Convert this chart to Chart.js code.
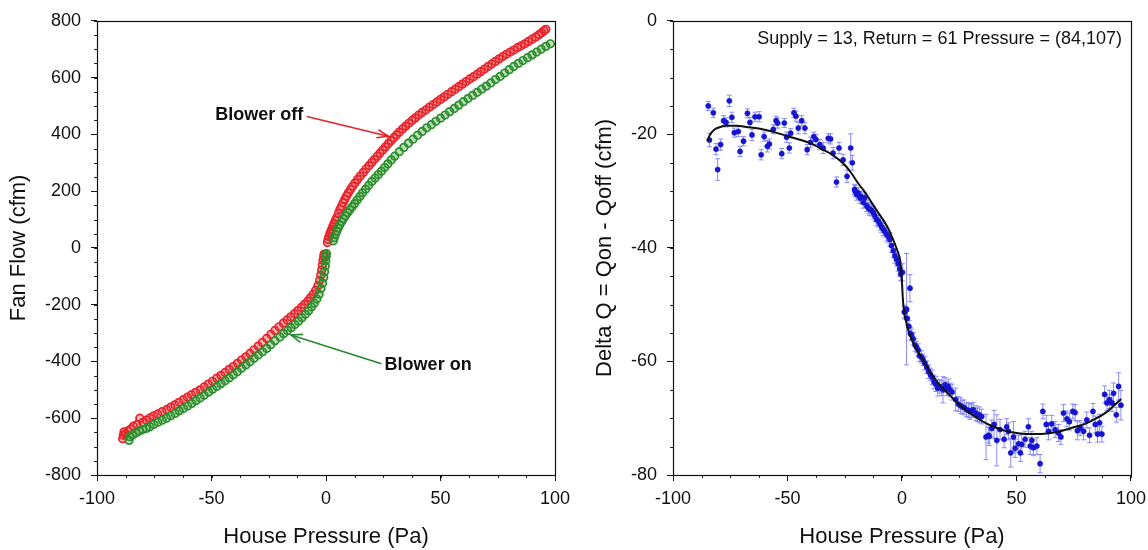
<!DOCTYPE html>
<html>
<head>
<meta charset="utf-8">
<script src="https://cdn.jsdelivr.net/npm/chart.js@4.4.0/dist/chart.umd.min.js"></script>
<style>
html,body{margin:0;padding:0;background:#fff;}
#wrap{display:flex;width:1148px;height:550px;}
canvas{display:block;}
</style>
</head>
<body>
<div id="wrap">
<canvas id="left" width="574" height="550"></canvas>
<canvas id="right" width="574" height="550"></canvas>
</div>
<script>
// ---------- DATA ----------
// Left panel: "Blower off" (red)
const blowerOffPressure = [-88.8,-88.5,-88.2,-87.5,-86.5,-85.2,-84.1,-82.5,-81.3,-80.0,-78.5,-76.9,-75.3,-73.5,-71.6,-69.6,-67.8,-66.0,-64.2,-62.3,-60.5,-58.7,-56.9,-55.0,-53.2,-51.4,-49.6,-47.7,-45.9,-44.1,-42.3,-40.5,-38.7,-36.9,-35.0,-33.2,-31.4,-29.6,-27.8,-25.9,-24.1,-22.3,-20.5,-18.6,-17.0,-15.4,-13.8,-12.3,-10.8,-9.4,-8.0,-6.8,-5.6,-4.5,-3.5,-2.8,-2.3,-1.9,-1.6,-1.3,-1.0,-0.8,
  0.6,0.9,1.3,1.7,2.1,2.5,3.0,3.5,4.1,4.7,5.4,6.1,6.8,7.5,8.2,9.0,9.8,10.7,11.6,12.7,13.8,15.0,16.3,17.5,18.8,20.0,21.2,22.4,23.6,24.8,26.0,27.2,28.4,29.6,30.8,32.0,33.4,34.8,36.2,37.6,39.0,40.5,42.0,43.6,45.2,46.8,48.4,50.0,51.6,53.2,54.8,56.4,58.0,59.6,61.2,62.8,64.4,66.0,67.6,69.2,70.8,72.4,74.0,75.6,77.2,78.8,80.4,82.0,83.6,85.2,86.8,88.4,90.0,91.6,93.0,94.2,95.2,96.0];
const blowerOffFlow = [-672,-660,-648,-655,-645,-638,-628,-622,-600,-615,-607,-599,-592,-585,-577,-570,-561,-553,-544,-535,-526,-517,-509,-500,-490,-480,-470,-459,-449,-439,-428,-418,-407,-395,-384,-372,-359,-346,-333,-319,-305,-291,-278,-265,-254,-243,-232,-221,-210,-199,-188,-176,-163,-149,-133,-115,-96,-78,-60,-44,-30,-22,
  19,30,40,50,58,66,76,86,97,107,122,136,147,159,171,183,194,206,217,229,241,253,266,278,290,301,312,323,334,345,356,367,378,388,398,408,419,429,439,449,458,468,477,486,496,505,514,523,532,541,550,559,568,577,586,595,603,612,621,630,639,648,657,666,674,682,690,697,705,712,719,727,735,743,751,758,765,770];

// Left panel: "Blower on" (green)
const blowerOnPressure = [-86.0,-85.6,-84.5,-83.0,-81.5,-80.0,-78.5,-76.9,-75.2,-73.4,-71.5,-69.6,-67.8,-65.9,-64.1,-62.3,-60.4,-58.6,-56.8,-55.0,-53.2,-51.3,-49.5,-47.7,-45.9,-44.1,-42.3,-40.5,-38.7,-36.9,-35.0,-33.2,-31.4,-29.6,-27.7,-25.9,-24.1,-22.3,-20.1,-18.5,-16.8,-15.2,-13.6,-12.0,-10.5,-9.0,-7.6,-6.3,-5.1,-4.0,-3.0,-2.2,-1.5,-1.0,-0.6,-0.3,-0.1,0.1,0.2,
  3.2,3.6,4.1,4.7,5.3,6.0,6.8,7.6,8.5,9.4,10.4,11.4,12.5,13.6,14.8,16.0,17.3,18.6,20.0,21.4,22.8,24.2,25.6,27.0,28.5,30.0,32.0,34.0,36.0,38.0,40.0,42.0,44.0,46.0,48.0,50.0,52.0,54.0,56.0,58.0,60.0,62.0,64.0,66.0,68.0,70.0,72.0,74.0,76.0,78.0,80.0,82.0,84.0,86.0,88.0,90.0,92.0,94.0,96.0,98.0];
const blowerOnFlow = [-678,-665,-660,-652,-645,-640,-636,-630,-622,-614,-607,-600,-591,-583,-574,-566,-557,-548,-538,-529,-519,-508,-498,-488,-478,-468,-458,-447,-436,-424,-412,-401,-389,-377,-366,-354,-341,-327,-314,-302,-291,-281,-270,-258,-246,-234,-221,-208,-195,-180,-163,-144,-124,-104,-84,-64,-45,-30,-20,
  25,36,47,59,70,81,92,103,113,124,134,145,156,169,181,194,207,220,234,246,258,270,283,296,310,323,339,354,369,383,397,410,423,434,446,457,468,480,491,503,515,526,537,548,559,570,581,593,604,616,628,639,650,660,670,680,690,700,710,719];

// Right panel: Delta Q measurements with error bars
const deltaPressure = [-84.6,-84.1,-82.4,-81.2,-80.5,-79.2,-77.9,-76.8,-75.4,-74.3,-73.2,-71.5,-70.7,-69.2,-67.5,-66.4,-65.5,-64.2,-62.4,-61.5,-60.2,-58.8,-57.9,-56.2,-55.0,-54.3,-52.5,-51.4,-50.4,-49.2,-48.6,-47.2,-46.3,-45.3,-43.8,-42.4,-41.4,-39.9,-38.5,-37.6,-35.9,-34.4,-32.2,-31.2,-30.1,-28.6,-27.5,-25.7,-24.0,-22.4,-21.7,-20.7,-19.2,-17.8,-16.3,
  -20.5,-19.8,-18.3,-16.9,-15.4,-14.7,-14.0,-13.2,-12.5,-11.8,-11.1,-10.3,-9.6,-8.9,-8.2,-7.5,-6.7,-6.0,-5.3,-4.6,-3.8,-3.1,-2.4,-1.7,-1.0,-0.6,0.2,3.5,1.0,1.3,2.0,2.3,3.0,3.7,4.2,4.9,5.7,6.4,7.1,7.6,8.5,9.2,10.0,10.8,11.6,12.4,13.2,14.0,14.8,15.6,16.4,17.3,17.9,18.8,19.6,20.2,21.0,21.9,23.4,24.6,25.6,26.3,27.1,28.2,29.0,29.7,30.4,31.1,32.3,33.0,33.8,34.8,
  36.7,37.8,38.1,39.2,40.2,41.4,42.8,44.6,45.7,46.5,47.5,48.7,49.4,50.9,51.7,52.3,53.8,55.2,56.0,56.7,57.4,58.9,60.3,61.5,63.0,64.0,65.4,66.9,68.3,69.4,70.5,72.0,73.1,74.6,75.6,76.6,77.8,79.3,80.7,81.9,83.4,84.4,85.4,86.3,87.3,88.5,89.5,90.6,91.7,92.4,93.6,94.6,95.6];
const deltaQ = [-15.0,-21.0,-16.2,-22.6,-26.2,-21.8,-17.6,-17.9,-14.1,-17.0,-19.7,-19.5,-23.0,-21.2,-16.3,-17.9,-20.1,-16.9,-16.9,-23.6,-20.4,-22.1,-21.7,-19.1,-17.6,-18.0,-23.4,-18.0,-20.5,-22.4,-19.8,-16.2,-16.8,-18.9,-17.6,-18.9,-22.7,-21.4,-20.4,-20.9,-21.8,-22.4,-20.7,-20.8,-23.3,-28.4,-22.4,-24.5,-27.4,-22.4,-25.0,-29.7,-30.3,-30.9,-31.2,
  -30.0,-30.6,-31.2,-32.0,-32.6,-33.0,-33.2,-33.4,-33.8,-34.4,-35.0,-35.3,-35.8,-36.3,-36.7,-37.1,-37.6,-38.0,-38.5,-39.6,-40.5,-41.4,-42.0,-42.8,-43.7,-44.6,-44.3,-47.1,-51.3,-51.3,-50.8,-52.4,-53.8,-55.1,-55.3,-56.0,-57.1,-57.5,-58.0,-59.0,-59.2,-59.7,-60.3,-61.0,-61.8,-62.3,-62.8,-63.6,-64.0,-64.7,-64.4,-64.7,-65.0,-64.1,-64.8,-64.4,-65.0,-65.4,-66.7,-67.5,-67.8,-68.0,-68.1,-68.5,-68.6,-68.8,-68.7,-68.5,-69.1,-69.4,-69.4,-69.7,
  -73.3,-73.0,-73.2,-71.8,-71.1,-73.9,-72.0,-73.7,-71.5,-72.3,-76.1,-73.3,-75.3,-74.5,-76.1,-74.6,-73.7,-71.5,-74.9,-73.9,-75.2,-74.9,-78.0,-68.8,-71.1,-72.3,-71.0,-72.0,-72.6,-73.3,-69.1,-70.1,-70.6,-68.8,-69.0,-72.2,-71.7,-72.3,-70.3,-73.0,-68.8,-71.1,-72.8,-70.8,-72.8,-65.8,-67.3,-66.7,-67.3,-65.6,-69.4,-64.4,-67.7];
const deltaErr = [0.8,1.2,0.8,1.0,1.9,1.0,0.9,0.8,1.0,0.9,0.8,0.9,0.9,0.8,0.8,0.9,1.0,0.8,0.9,0.9,0.8,1.0,0.9,0.8,0.8,0.9,0.9,0.8,0.9,0.9,0.8,0.8,0.9,1.0,0.9,1.0,0.9,0.9,0.8,0.9,0.9,1.0,0.8,0.9,1.0,0.9,1.0,1.0,1.1,2.5,1.3,0.9,0.9,0.9,1.0,
  1.0,1.0,1.0,1.0,1.0,1.0,1.1,1.0,1.1,1.0,1.1,1.0,1.1,1.0,1.1,1.0,1.2,1.1,1.2,1.2,1.2,1.3,1.2,1.3,1.3,1.2,1.5,2.4,1.2,1.0,9.8,1.2,1.0,1.1,1.0,1.1,1.1,1.0,1.1,1.0,1.1,1.0,1.2,1.1,1.2,1.1,1.3,1.2,1.3,1.4,1.2,1.3,2.3,1.3,1.2,1.3,1.2,1.4,2.0,1.3,1.4,1.2,1.3,1.2,1.3,1.4,1.2,1.3,1.3,1.2,1.4,1.3,
  4.0,1.4,1.6,1.5,2.5,4.5,1.8,1.5,1.4,1.5,2.5,2.7,1.6,1.5,1.5,1.8,1.4,1.4,1.5,1.6,1.4,1.5,1.6,1.3,1.6,1.5,1.5,1.4,1.5,1.3,1.5,1.4,1.5,1.3,1.4,1.6,1.3,1.5,1.4,1.3,1.4,1.5,1.4,1.5,1.4,1.5,1.4,1.6,1.5,1.8,1.3,2.4,2.6];

// Right panel: fitted curve
const fitPressure = [-85,-84,-82,-80,-77,-72,-68,-64,-60,-55,-50,-45,-40,-35,-30,-25,-22,-19,-16,-13,-10,-8,-6,-4,-2,-1,-0.5,0,0.3,0.7,1.2,2,3,4.5,6.3,8,10,12.5,15,17.5,20,25,30,35,40,45,50,55,60,65,70,75,80,85,90,95.7];
const fitDeltaQ = [-21.2,-20.2,-19.2,-18.8,-18.5,-18.5,-18.7,-18.9,-19.2,-19.7,-20.3,-20.9,-21.6,-22.6,-23.7,-25.4,-26.9,-28.7,-30.3,-32.2,-34.0,-35.2,-36.6,-38.4,-40.5,-41.8,-43.2,-46.0,-48.5,-50.5,-52.0,-53.3,-54.8,-56.4,-57.8,-59.0,-60.3,-62.0,-63.4,-64.6,-65.6,-67.6,-69.2,-70.5,-71.5,-72.2,-72.6,-72.8,-72.8,-72.6,-72.2,-71.6,-71.0,-70.0,-68.7,-66.6];

const panelText = "Supply = 13, Return = 61 Pressure = (84,107)";
const xTitle = "House Pressure (Pa)";
const leftYTitle = "Fan Flow (cfm)";
const rightYTitle = "Delta Q = Qon - Qoff (cfm)";

// ---------- HELPERS ----------
const zip = (xs, ys) => xs.map((x, i) => ({x: x, y: ys[i]}));
Chart.defaults.font.family = "'Liberation Sans', Arial, Helvetica, sans-serif";
Chart.defaults.color = '#111';
Chart.defaults.animation = false;

const frameMinor = {
  id: 'frameMinor',
  afterDraw(chart, args, opts) {
    const {ctx, chartArea: a, scales} = chart;
    const sx = scales.x, sy = scales.y;
    ctx.save();
    ctx.strokeStyle = '#222';
    ctx.lineWidth = 1;
    for (let v = sx.min; v <= sx.max + 1e-9; v += opts.xMinor) {
      const px = Math.round(sx.getPixelForValue(v)) + 0.5;
      ctx.beginPath(); ctx.moveTo(px, a.bottom); ctx.lineTo(px, a.bottom + 3); ctx.stroke();
    }
    for (let v = sy.min; v <= sy.max + 1e-9; v += opts.yMinor) {
      const py = Math.round(sy.getPixelForValue(v)) + 0.5;
      ctx.beginPath(); ctx.moveTo(a.left, py); ctx.lineTo(a.left - 3, py); ctx.stroke();
    }
    ctx.lineWidth = 1.2;
    ctx.strokeStyle = '#111';
    ctx.strokeRect(Math.round(a.left) + 0.5, Math.round(a.top) + 0.5, Math.round(a.right - a.left), Math.round(a.bottom - a.top));
    ctx.restore();
  }
};

function xAxis() {
  return {
    type: 'linear', min: -100, max: 100,
    ticks: {stepSize: 50, font: {size: 18, lineHeight: 1.8}, color: '#111', padding: 2, maxRotation: 0, autoSkip: false},
    grid: {drawOnChartArea: false, drawTicks: true, tickLength: 6, tickColor: '#111', tickWidth: 1},
    border: {display: false},
    title: {display: true, text: xTitle, font: {size: 22}, color: '#111', padding: {top: 0, bottom: 0}},
    afterFit(s) { s.height = 75; }
  };
}
function yAxis(min, max, step, title, width, titlePad) {
  return {
    type: 'linear', min: min, max: max,
    ticks: {stepSize: step, font: {size: 18}, color: '#111', padding: 10, autoSkip: false},
    grid: {drawOnChartArea: false, drawTicks: true, tickLength: 6, tickColor: '#111', tickWidth: 1},
    border: {display: false},
    title: {display: true, text: title, font: {size: 22}, color: '#111', padding: {top: titlePad, bottom: 0}},
    afterFit(s) { s.width = width; }
  };
}

// ---------- LEFT CHART ----------
const arrowNotes = {
  id: 'arrowNotes',
  afterDatasetsDraw(chart, args, opts) {
    const {ctx, scales: {x, y}} = chart;
    ctx.save();
    opts.items.forEach(it => {
      const x1 = x.getPixelForValue(it.from[0]), y1 = y.getPixelForValue(it.from[1]);
      const x2 = x.getPixelForValue(it.to[0]), y2 = y.getPixelForValue(it.to[1]);
      ctx.strokeStyle = it.color; ctx.lineWidth = 1.6;
      ctx.beginPath(); ctx.moveTo(x1, y1); ctx.lineTo(x2, y2); ctx.stroke();
      const ang = Math.atan2(y2 - y1, x2 - x1), L = 12, w = 0.36;
      ctx.beginPath();
      ctx.moveTo(x2 - L * Math.cos(ang - w), y2 - L * Math.sin(ang - w));
      ctx.lineTo(x2, y2);
      ctx.lineTo(x2 - L * Math.cos(ang + w), y2 - L * Math.sin(ang + w));
      ctx.stroke();
      ctx.fillStyle = '#111';
      ctx.font = "bold 18px 'Liberation Sans', Arial, sans-serif";
      ctx.textAlign = it.align; ctx.textBaseline = 'middle';
      ctx.fillText(it.text, x.getPixelForValue(it.at[0]), y.getPixelForValue(it.at[1]));
    });
    ctx.restore();
  }
};

new Chart(document.getElementById('left'), {
  type: 'scatter',
  data: {
    datasets: [
      {data: zip(blowerOnPressure, blowerOnFlow), showLine: false, pointRadius: 3.8, pointBorderWidth: 1.7,
       borderColor: '#2b8f2b', backgroundColor: 'rgba(43,143,43,0.3)', pointHoverRadius: 3.8},
      {data: zip(blowerOffPressure, blowerOffFlow), showLine: false, pointRadius: 3.8, pointBorderWidth: 1.7,
       borderColor: '#e8232a', backgroundColor: 'rgba(232,35,42,0.3)', pointHoverRadius: 3.8}
    ]
  },
  options: {
    responsive: false,
    layout: {padding: {top: 17, right: 19, bottom: 0, left: 0}},
    plugins: {
      legend: {display: false}, tooltip: {enabled: false},
      frameMinor: {xMinor: 12.5, yMinor: 50},
      arrowNotes: {items: [
        {text: 'Blower off', align: 'right', at: [-9.9, 468], from: [-8.4, 463], to: [27.2, 393], color: '#e32226'},
        {text: 'Blower on', align: 'left', at: [25.6, -411], from: [24.2, -408], to: [-15.3, -307], color: '#24892a'}
      ]}
    },
    scales: {
      x: xAxis(),
      y: yAxis(-800, 800, 200, leftYTitle, 97, 6)
    }
  },
  plugins: [frameMinor, arrowNotes]
});

// ---------- RIGHT CHART ----------
const errorBars = {
  id: 'errorBars',
  beforeDatasetsDraw(chart, args, opts) {
    const {ctx, scales: {x, y}} = chart;
    ctx.save();
    ctx.strokeStyle = opts.color; ctx.lineWidth = 1;
    deltaPressure.forEach((p, i) => {
      const px = x.getPixelForValue(p);
      const top = y.getPixelForValue(deltaQ[i] + deltaErr[i]);
      const bot = y.getPixelForValue(deltaQ[i] - deltaErr[i]);
      ctx.beginPath();
      ctx.moveTo(px, top); ctx.lineTo(px, bot);
      ctx.moveTo(px - 2.5, top); ctx.lineTo(px + 2.5, top);
      ctx.moveTo(px - 2.5, bot); ctx.lineTo(px + 2.5, bot);
      ctx.stroke();
    });
    ctx.restore();
  }
};
const panelLabel = {
  id: 'panelLabel',
  afterDatasetsDraw(chart) {
    const {ctx, chartArea: a} = chart;
    ctx.save();
    ctx.fillStyle = '#111';
    ctx.font = "18px 'Liberation Sans', Arial, sans-serif";
    ctx.textAlign = 'right'; ctx.textBaseline = 'middle';
    ctx.fillText(panelText, a.right - 9, a.top + 18);
    ctx.restore();
  }
};

new Chart(document.getElementById('right'), {
  type: 'scatter',
  data: {
    datasets: [
      {data: zip(fitPressure, fitDeltaQ), showLine: true, pointRadius: 0, borderColor: '#111', borderWidth: 2,
       cubicInterpolationMode: 'monotone', fill: false, order: 0},
      {data: zip(deltaPressure, deltaQ), showLine: false, pointRadius: 2.6, pointBorderWidth: 0.5,
       borderColor: '#1414c8', backgroundColor: '#1414d2', order: 1}
    ]
  },
  options: {
    responsive: false,
    layout: {padding: {top: 17, right: 17, bottom: 0, left: 0}},
    plugins: {
      legend: {display: false}, tooltip: {enabled: false},
      frameMinor: {xMinor: 12.5, yMinor: 5},
      errorBars: {color: 'rgba(120,120,245,0.85)'}
    },
    scales: {
      x: xAxis(),
      y: yAxis(-80, 0, 20, rightYTitle, 99, 18)
    }
  },
  plugins: [frameMinor, errorBars, panelLabel]
});
</script>
</body>
</html>
